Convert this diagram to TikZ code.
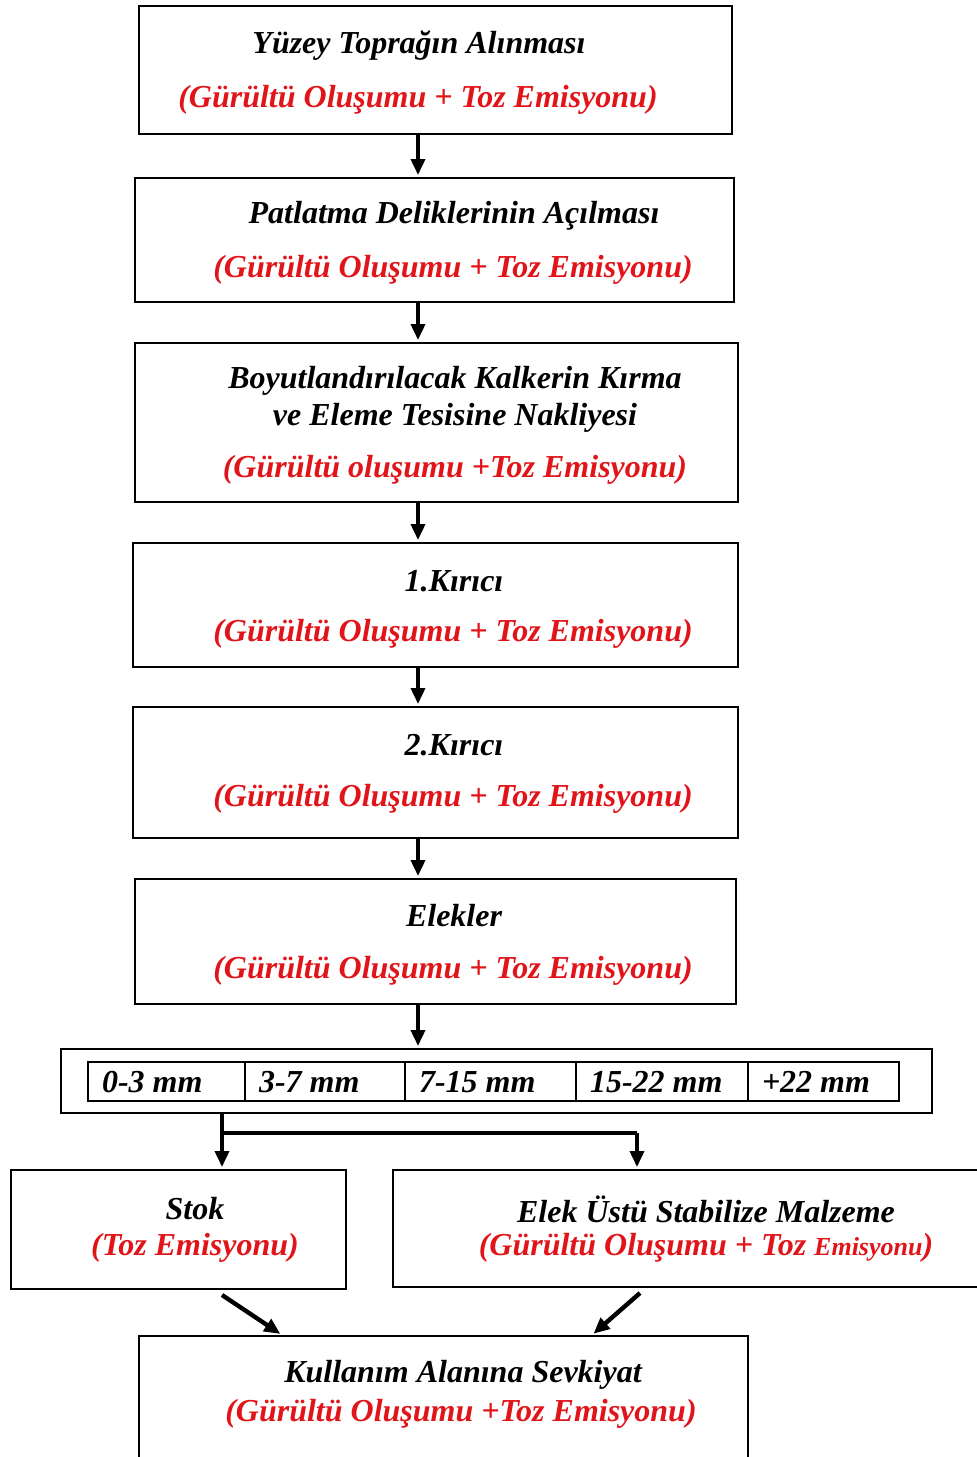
\documentclass[tikz,border=0pt]{standalone}
\usepackage{fontspec}
\setmainfont{Liberation Serif}
\usepackage{tikz}
\usetikzlibrary{positioning, fit, arrows.meta}
\definecolor{emisred}{RGB}{225,20,25}

\begin{document}
\begin{tikzpicture}[x=0.5pt, y=-0.5pt,
            stepbox/.style={rectangle, draw, line width=1pt, inner sep=0pt},
            cell/.style={rectangle, draw, line width=1.4pt, inner sep=0pt},
            title/.style={font=\fontsize{16}{19}\selectfont\bfseries\itshape, inner sep=0pt, yshift=-1.5pt},
            effect/.style={title, text=emisred},
            flow/.style={line width=1.8pt, shorten >=1pt, -{Triangle[length=8pt, width=7pt]}}]
            \useasboundingbox (0,0) rectangle (977,1457);
            \clip (0,0) rectangle (977,1457);

            % Main process boxes
            \node[stepbox, fit={(139,6) (732,134)}] (b1) {};
            \node[title] (b1t) at (419,43) {Yüzey Toprağın Alınması};
            \node[effect] (b1e) at (418,97) {(Gürültü Oluşumu + Toz Emisyonu)};

            \node[stepbox, fit={(135,178) (734,302)}] (b2) {};
            \node[title] (b2t) at (454,213) {Patlatma Deliklerinin Açılması};
            \node[effect] (b2e) at (453,267) {(Gürültü Oluşumu + Toz Emisyonu)};

            \node[stepbox, fit={(135,343) (738,502)}] (b3) {};
            \node[title] (b3t) at (455,378) {Boyutlandırılacak Kalkerin Kırma};
            \node[title] (b3u) at (455,415) {ve Eleme Tesisine Nakliyesi};
            \node[effect] (b3e) at (455,467) {(Gürültü oluşumu +Toz Emisyonu)};

            \node[stepbox, fit={(133,543) (738,667)}] (b4) {};
            \node[title] (b4t) at (454,578) {1.Kırıcı};
            \node[effect] (b4e) at (453,631) {(Gürültü Oluşumu + Toz Emisyonu)};

            \node[stepbox, fit={(133,707) (738,838)}] (b5) {};
            \node[title] (b5t) at (454,742) {2.Kırıcı};
            \node[effect] (b5e) at (453,796) {(Gürültü Oluşumu + Toz Emisyonu)};

            \node[stepbox, fit={(135,879) (736,1004)}] (b6) {};
            \node[title] (b6t) at (454,913) {Elekler};
            \node[effect] (b6e) at (453,968) {(Gürültü Oluşumu + Toz Emisyonu)};

            % Sieve fractions
            \node[stepbox, fit={(61,1049) (932,1113)}] (sz) {};
            \foreach \xa/\xb/\lab [count=\i] in {88/245/0-3 mm, 245/405/3-7 mm, 405/576/7-15 mm, 576/748/15-22 mm, 748/899/+22 mm} {
                \node[cell, fit={(\xa,1062) (\xb,1101)}] (c\i) {};
                \node[title, anchor=west, text height=11pt, text depth=3.5pt] (l\i) at ([xshift=7.5pt]c\i.west) {\lab};
            }

            % Outputs
            \node[stepbox, fit={(11,1170) (346,1289)}] (stok) {};
            \node[title] (stokt) at (195,1206) {Stok};
            \node[effect] (stoke) at (195,1245) {(Toz Emisyonu)};

            \node[stepbox, fit={(393,1170) (995,1287)}] (elek) {};
            \node[title] (elekt) at (706,1206) {Elek Üstü Stabilize Malzeme};
            \node[effect] (eleke) at (706,1245) {(Gürültü Oluşumu + Toz {\fontsize{13}{15}\selectfont Emisyonu})};

            \node[stepbox, fit={(139,1336) (748,1480)}] (ship) {};
            \node[title] (shipt) at (463,1372) {Kullanım Alanına Sevkiyat};
            \node[effect] (shipe) at (461,1411) {(Gürültü Oluşumu +Toz Emisyonu)};

            % Arrows down the main column
            \coordinate (ax) at (418,0);
            \foreach \a/\b in {b1/b2, b2/b3, b3/b4, b4/b5, b5/b6, b6/sz}
                \draw[flow] (\a.south -| ax) -- (\b.north -| ax);

            % Split to the two outputs
            \coordinate (sl) at (222,1133);
            \coordinate (sr) at (637,1133);
            \draw[line width=1.8pt] (sz.south -| sl) -- (sl);
            \draw[line width=2.4pt] (sl) -- (sr);
            \draw[flow] (sl) -- (stok.north -| sl);
            \draw[flow] (sr) -- (elek.north -| sr);

            % Into shipment
            \coordinate (dl) at (222,1295);
            \coordinate (dr) at (640,1293);
            \coordinate (el) at (282,0);
            \coordinate (er) at (592,0);
            \draw[flow, line width=2.2pt] (dl) -- (ship.north -| el);
            \draw[flow, line width=2.2pt] (dr) -- (ship.north -| er);
        \end{tikzpicture}
\end{document}
